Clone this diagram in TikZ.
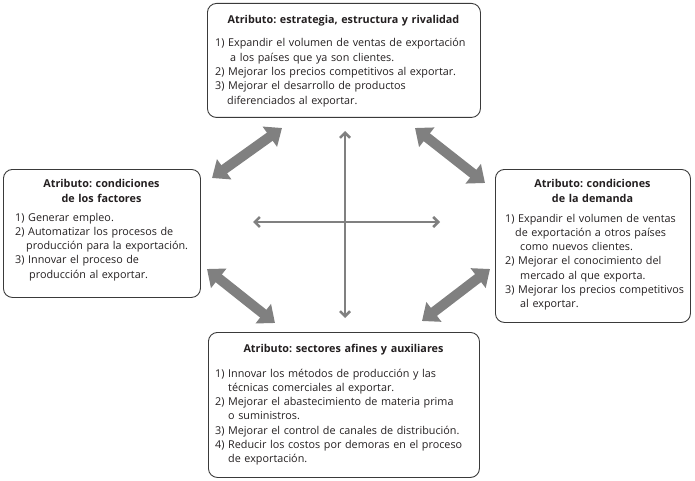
\documentclass[tikz,border=0pt]{standalone}
\usepackage{fontspec}
\setmainfont{Open Sans}
\usetikzlibrary{arrows.meta}
\definecolor{boxc}{HTML}{3A3A3A}
\definecolor{arrc}{HTML}{808080}
\definecolor{txtc}{HTML}{231F20}
\frenchspacing
\tikzset{
  box/.style={draw=boxc, line width=0.9pt, rounded corners=9pt, anchor=north west, inner sep=0pt},
  ttl/.style={font=\fontsize{10.8}{15}\selectfont\bfseries\frenchspacing, text=txtc, anchor=base, align=center, text width=260pt, inner sep=0pt},
  body/.style={font=\fontsize{10.8}{14.3}\selectfont\frenchspacing, text=txtc, anchor=base west, align=left, text width=300pt, inner sep=0pt},
  bigarrow/.style={draw=arrc, line width=10pt, {Triangle[width=24pt,length=15pt]}-{Triangle[width=24pt,length=15pt]}},
  thinarrow/.style={draw=arrc, line width=2.5pt, {Straight Barb[width=10pt,length=5pt]}-{Straight Barb[width=10pt,length=5pt]}}
}
\newcommand{\ind}[1]{\hspace*{#1pt}}
\begin{document}
\begin{tikzpicture}[x=1pt,y=-1pt]
\useasboundingbox (0,0) rectangle (695,481);
% boxes
\node[box, minimum width=273pt, minimum height=114pt] (top) at (207,3) {};
\node[box, minimum width=197pt, minimum height=128pt] (left) at (3,169) {};
\node[box, minimum width=195pt, minimum height=153pt] (right) at (495,169) {};
\node[box, minimum width=271pt, minimum height=145pt] (bottom) at (208,332) {};
% titles
\node[ttl] (toptitle) at (343.5,24) {Atributo: estrategia, estructura y rivalidad};
\node[ttl] (lefttitle) at (101.5,187) {Atributo: condiciones\\de los factores};
\node[ttl] (righttitle) at (592.5,187) {Atributo: condiciones\\de la demanda};
\node[ttl] (bottomtitle) at (343.5,352) {Atributo: sectores afines y auxiliares};
% bodies
\node[body] (topbody) at (215,47) {1) Expandir el volumen de ventas de exportación\\
\ind{15}a los países que ya son clientes.\\
2) Mejorar los precios competitivos al exportar.\\
3) Mejorar el desarrollo de productos\\
\ind{12}diferenciados al exportar.};
\node[body] (leftbody) at (15,221) {1) Generar empleo.\\
2) Automatizar los procesos de\\
\ind{11}producción para la exportación.\\
3) Innovar el proceso de\\
\ind{14}producción al exportar.};
\node[body] (rightbody) at (505,222) {1) Expandir el volumen de ventas\\
\ind{10}de exportación a otros países\\
\ind{15}como nuevos clientes.\\
2) Mejorar el conocimiento del\\
\ind{15}mercado al que exporta.\\
3) Mejorar los precios competitivos\\
\ind{15}al exportar.};
\node[body] (bottombody) at (215,377) {1) Innovar los métodos de producción y las\\
\ind{13}técnicas comerciales al exportar.\\
2) Mejorar el abastecimiento de materia prima\\
\ind{13}o suministros.\\
3) Mejorar el control de canales de distribución.\\
4) Reducir los costos por demoras en el proceso\\
\ind{13}de exportación.};
% arrow end points
\coordinate (tlA) at (212,178);
\coordinate (tlB) at (282,128);
\coordinate (trA) at (415,128);
\coordinate (trB) at (485,183);
\coordinate (blA) at (207,269);
\coordinate (blB) at (275,323);
\coordinate (brA) at (422,321);
\coordinate (brB) at (490,269);
\coordinate (hA) at (253,222);
\coordinate (hB) at (440,222);
\coordinate (vA) at (345,131);
\coordinate (vB) at (345,318);
\draw[bigarrow] (tlA) -- (tlB);
\draw[bigarrow] (trA) -- (trB);
\draw[bigarrow] (blA) -- (blB);
\draw[bigarrow] (brA) -- (brB);
\draw[thinarrow] (hA) -- (hB);
\draw[thinarrow] (vA) -- (vB);
\end{tikzpicture}
\end{document}
